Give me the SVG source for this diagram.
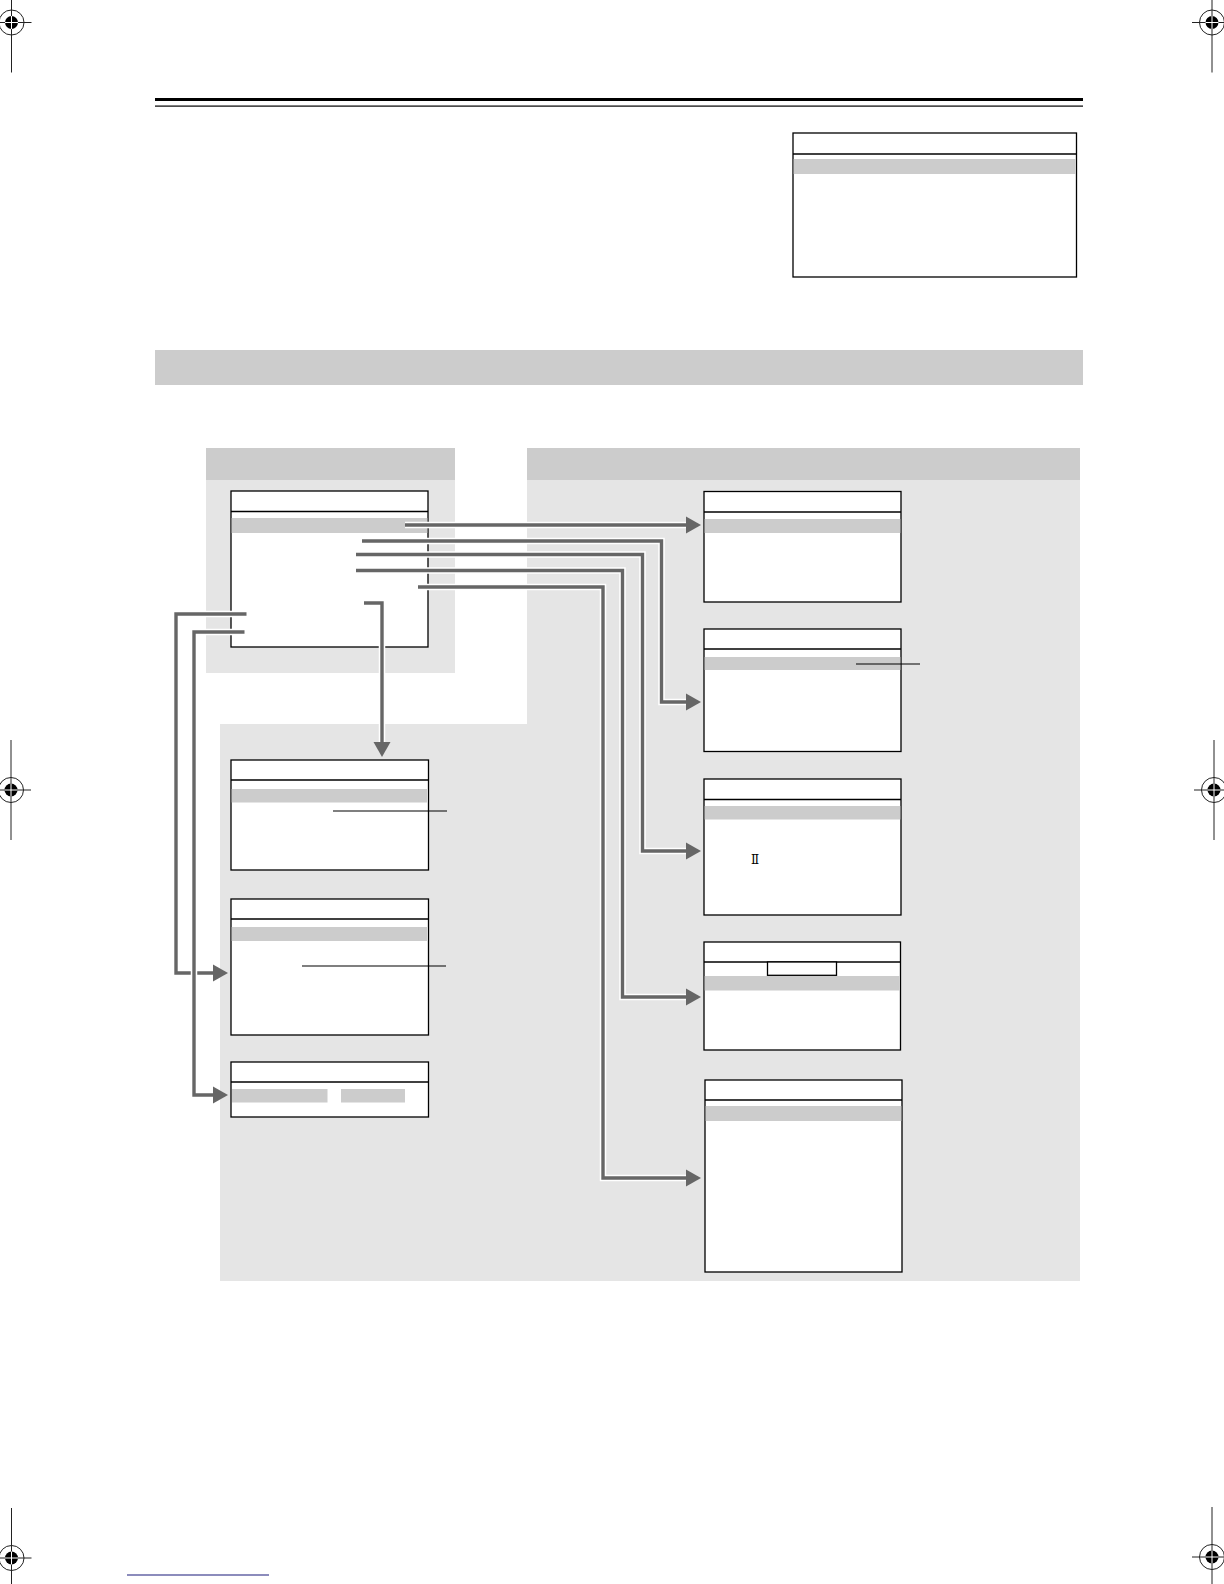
<svg xmlns="http://www.w3.org/2000/svg" width="1224" height="1584" viewBox="0 0 1224 1584">
<style>
.box{fill:#fff;stroke:#000;stroke-width:1.3}
.div{stroke:#000;stroke-width:1.3}
.hl{fill:#cccccc}
.hdr{fill:#cccccc}
.body{fill:#e5e5e5}
.halo{fill:none;stroke:#fff;stroke-width:6.5;stroke-linejoin:miter}
.ln{fill:none;stroke:#666666;stroke-width:3.4;stroke-linejoin:miter}
.call{stroke:#000;stroke-width:1.1}
.reg{stroke:#222;stroke-width:1;fill:none}
</style>
<defs>
<marker id="arr" markerUnits="userSpaceOnUse" markerWidth="16" markerHeight="18" viewBox="0 -9 16 18" refX="0" refY="0" orient="auto" overflow="visible">
<path d="M0,-8.5 L15,0 L0,8.5 z" fill="#666666"/>
</marker>
<g id="regmark">
<line class="reg" x1="0" y1="-50" x2="0" y2="50"/>
<line class="reg" x1="-20" y1="0" x2="20" y2="0"/>
<circle class="reg" r="12.5"/>
<circle r="6.5" fill="#000"/>
<line x1="-6.5" y1="0" x2="6.5" y2="0" stroke="#fff" stroke-width="1"/>
<line x1="0" y1="-6.5" x2="0" y2="6.5" stroke="#fff" stroke-width="1"/>
</g>
</defs>
<rect width="1224" height="1584" fill="#fff"/>

<g id="registration">
<use href="#regmark" x="11.5" y="22.5"/>
<use href="#regmark" x="1212" y="22.5"/>
<use href="#regmark" x="11" y="790"/>
<use href="#regmark" x="1214" y="790"/>
<use href="#regmark" x="11.5" y="1558"/>
<use href="#regmark" x="1212" y="1557"/>
</g>

<g id="header-rules">
<rect x="155" y="98" width="928" height="3" fill="#000"/>
<rect x="155" y="105.5" width="928" height="1.2" fill="#000"/>
</g>

<g id="top-right-box">
<rect class="box" x="793" y="133" width="283.5" height="144"/>
<rect class="hl" x="793.7" y="159" width="282.1" height="15"/>
<line class="div" x1="793" y1="154" x2="1076.5" y2="154"/>
</g>

<rect id="section-band" x="155" y="350" width="928" height="35" fill="#cccccc"/>

<g id="left-panel">
<rect class="hdr" x="206" y="448" width="249" height="32"/>
<rect class="body" x="206" y="480" width="249" height="193"/>
</g>
<g id="right-panel">
<rect class="hdr" x="527" y="448" width="553" height="32"/>
<path class="body" d="M527,480 H1080 V1281 H220 V724 H527 Z"/>
</g>

<g id="main-menu">
<rect class="box" x="231" y="491" width="197" height="156"/>
<rect class="hl" x="231.7" y="518" width="195.6" height="15"/>
<line class="div" x1="231" y1="511.5" x2="428" y2="511.5"/>
</g>

<g id="screen-1">
<rect class="box" x="704" y="491.5" width="197" height="110.5"/>
<rect class="hl" x="704.7" y="519" width="195.6" height="14"/>
<line class="div" x1="704" y1="512" x2="901" y2="512"/>
</g>

<g id="screen-2">
<rect class="box" x="704" y="629" width="197" height="122.5"/>
<rect class="hl" x="704.7" y="657" width="195.6" height="13"/>
<line class="div" x1="704" y1="649" x2="901" y2="649"/>
<line class="call" x1="856" y1="664" x2="920" y2="664"/>
</g>

<g id="screen-3">
<rect class="box" x="704" y="779" width="197" height="136"/>
<rect class="hl" x="704.7" y="806" width="195.6" height="13.5"/>
<line class="div" x1="704" y1="799.5" x2="901" y2="799.5"/>
<text x="755" y="864" font-family="'DejaVu Serif','Liberation Serif',serif" font-size="12" text-anchor="middle" fill="#000">Ⅱ</text>
</g>

<g id="screen-4">
<rect class="box" x="704" y="942" width="196.5" height="108"/>
<rect class="hl" x="704.7" y="976" width="195.1" height="14.5"/>
<line class="div" x1="704" y1="962" x2="900.5" y2="962"/>
<rect class="box" x="767.5" y="962" width="69" height="13.3"/>
</g>

<g id="screen-5">
<rect class="box" x="705" y="1080" width="197" height="192"/>
<rect class="hl" x="705.7" y="1106" width="195.6" height="15"/>
<line class="div" x1="705" y1="1100" x2="902" y2="1100"/>
</g>

<g id="screen-a">
<rect class="box" x="231" y="760" width="197.5" height="110"/>
<rect class="hl" x="231.7" y="789" width="195.3" height="13.5"/>
<line class="div" x1="231" y1="780" x2="428.5" y2="780"/>
<line class="call" x1="333" y1="811" x2="447" y2="811"/>
</g>

<g id="screen-b">
<rect class="box" x="231" y="899" width="197.5" height="136"/>
<rect class="hl" x="231.7" y="927" width="195.3" height="14"/>
<line class="div" x1="231" y1="919" x2="428.5" y2="919"/>
<line class="call" x1="302" y1="966" x2="446" y2="966"/>
</g>

<g id="screen-c">
<rect class="box" x="231" y="1062" width="197.5" height="55"/>
<rect class="hl" x="232" y="1089" width="95.5" height="13.5"/>
<rect class="hl" x="341" y="1089" width="64" height="13.5"/>
<line class="div" x1="231" y1="1082" x2="428.5" y2="1082"/>
</g>

<g id="connectors">
<path class="halo" d="M405,525 H686"/>
<path class="ln" d="M405,525 H686" marker-end="url(#arr)"/>
<path class="halo" d="M362,541 H661.5 V702 H686"/>
<path class="ln" d="M362,541 H661.5 V702 H686" marker-end="url(#arr)"/>
<path class="halo" d="M356,554.5 H642.5 V851 H686"/>
<path class="ln" d="M356,554.5 H642.5 V851 H686" marker-end="url(#arr)"/>
<path class="halo" d="M356,570.5 H622.5 V997 H686"/>
<path class="ln" d="M356,570.5 H622.5 V997 H686" marker-end="url(#arr)"/>
<path class="halo" d="M418,587 H603 V1178 H686"/>
<path class="ln" d="M418,587 H603 V1178 H686" marker-end="url(#arr)"/>
<path class="halo" d="M364,603 H382 V742"/>
<path class="ln" d="M364,603 H382 V742" marker-end="url(#arr)"/>
<path class="halo" d="M246.5,614 H176 V973 H213"/>
<path class="ln" d="M246.5,614 H176 V973 H213" marker-end="url(#arr)"/>
<path class="halo" d="M244.5,632 H194 V1095 H213"/>
<path class="ln" d="M244.5,632 H194 V1095 H213" marker-end="url(#arr)"/>
</g>

<line id="footer-link" x1="127" y1="1575" x2="269" y2="1575" stroke="#1a1a7a" stroke-width="1.2"/>
</svg>
